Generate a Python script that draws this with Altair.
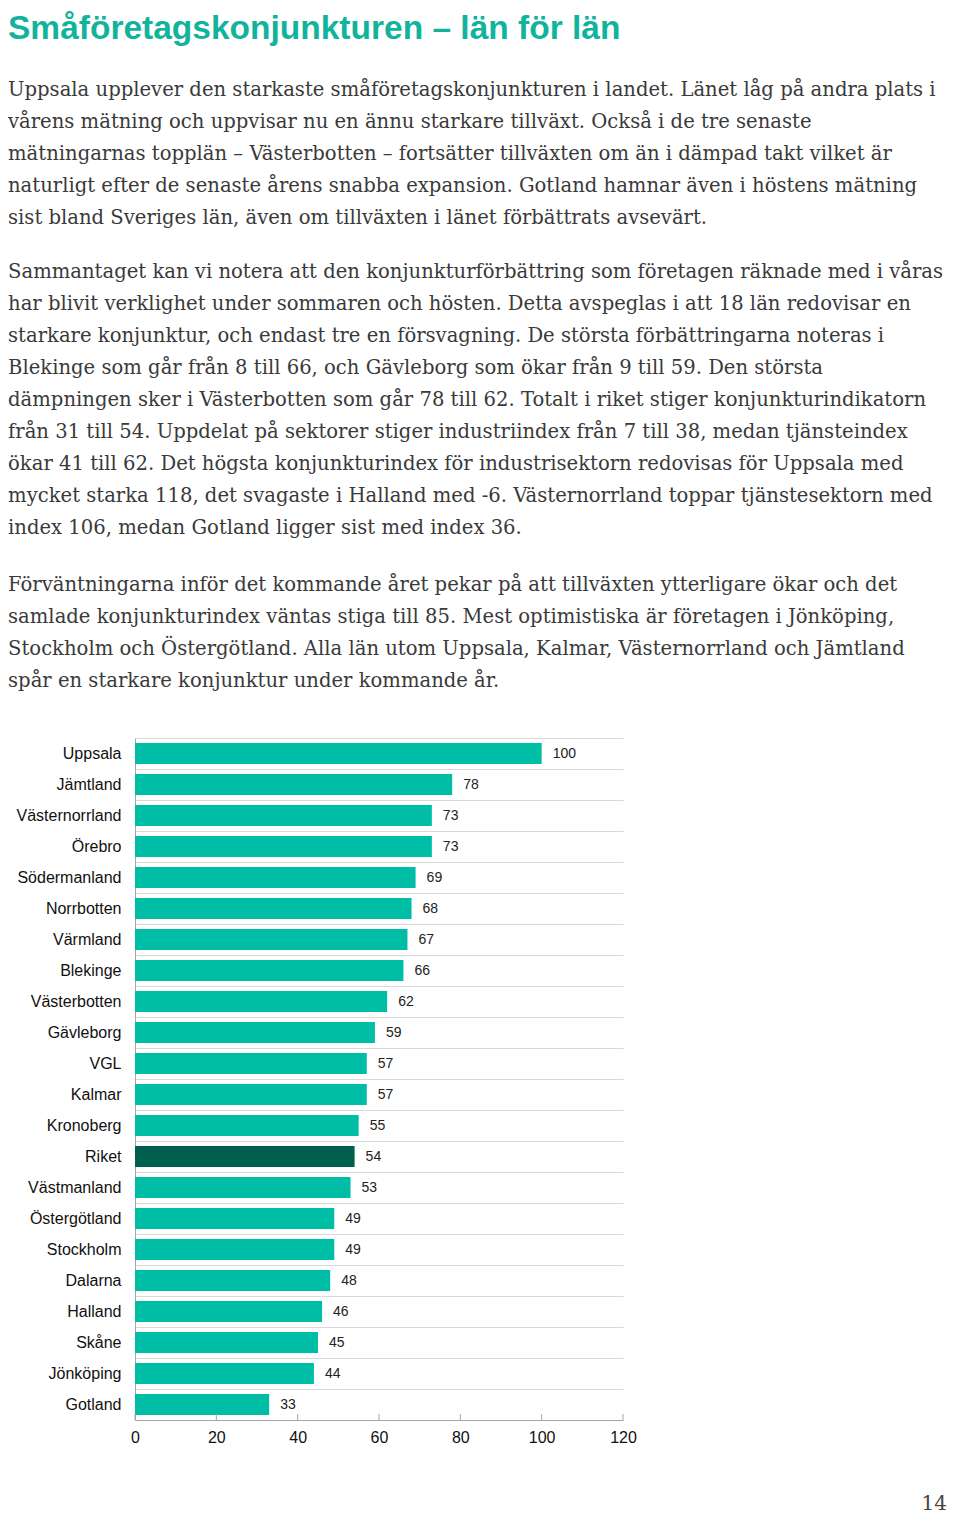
import altair as alt
import pandas as pd

heading = "Småföretagskonjunkturen – län för län"

para1 = [
    "Uppsala upplever den starkaste småföretagskonjunkturen i landet. Länet låg på andra plats i",
    "vårens mätning och uppvisar nu en ännu starkare tillväxt. Också i de tre senaste",
    "mätningarnas topplän – Västerbotten – fortsätter tillväxten om än i dämpad takt vilket är",
    "naturligt efter de senaste årens snabba expansion. Gotland hamnar även i höstens mätning",
    "sist bland Sveriges län, även om tillväxten i länet förbättrats avsevärt.",
]
para2 = [
    "Sammantaget kan vi notera att den konjunkturförbättring som företagen räknade med i våras",
    "har blivit verklighet under sommaren och hösten. Detta avspeglas i att 18 län redovisar en",
    "starkare konjunktur, och endast tre en försvagning. De största förbättringarna noteras i",
    "Blekinge som går från 8 till 66, och Gävleborg som ökar från 9 till 59. Den största",
    "dämpningen sker i Västerbotten som går 78 till 62. Totalt i riket stiger konjunkturindikatorn",
    "från 31 till 54. Uppdelat på sektorer stiger industriindex från 7 till 38, medan tjänsteindex",
    "ökar 41 till 62. Det högsta konjunkturindex för industrisektorn redovisas för Uppsala med",
    "mycket starka 118, det svagaste i Halland med -6. Västernorrland toppar tjänstesektorn med",
    "index 106, medan Gotland ligger sist med index 36.",
]
para3 = [
    "Förväntningarna inför det kommande året pekar på att tillväxten ytterligare ökar och det",
    "samlade konjunkturindex väntas stiga till 85. Mest optimistiska är företagen i Jönköping,",
    "Stockholm och Östergötland. Alla län utom Uppsala, Kalmar, Västernorrland och Jämtland",
    "spår en starkare konjunktur under kommande år.",
]

lan = ["Uppsala", "Jämtland", "Västernorrland", "Örebro", "Södermanland", "Norrbotten",
       "Värmland", "Blekinge", "Västerbotten", "Gävleborg", "VGL", "Kalmar", "Kronoberg",
       "Riket", "Västmanland", "Östergötland", "Stockholm", "Dalarna", "Halland", "Skåne",
       "Jönköping", "Gotland"]
index = [100, 78, 73, 73, 69, 68, 67, 66, 62, 59, 57, 57, 55, 54, 53, 49, 49, 48, 46, 45, 44, 33]
x_ticks = [0, 20, 40, 60, 80, 100, 120]
page_number = ["14"]

TEAL = "#00bea5"
DARK = "#00604f"
HEAD = "#12b39d"
TEXT = "#3a3a3a"
SERIF = "DejaVu Serif"
SANS = "Liberation Sans"
FS = 19.6

W = 488
STEP = 31
H = STEP * len(lan)

df = pd.DataFrame({"lan": lan, "value": index})

# --- header block (heading + first paragraph) ---
header = alt.Chart(pd.DataFrame({"v": [0]})).mark_point(opacity=0).properties(
    width=W, height=1,
    title=alt.TitleParams(
        text=heading, subtitle=para1, anchor="start", frame="group", offset=0, dx=-127,
        font=SANS, fontSize=33.5, fontWeight="bold", color=HEAD,
        subtitleFont=SERIF, subtitleFontSize=FS, subtitleColor=TEXT,
        subtitleLineHeight=32, subtitlePadding=35,
    ),
)

y_enc = alt.Y("lan:N", sort=lan, scale=alt.Scale(paddingInner=0, paddingOuter=0),
              axis=alt.Axis(title=None, ticks=False, domainColor="#a6a6a6", grid=True,
                            gridColor="#d9d9d9", bandPosition=0, labelFont=SANS,
                            labelFontSize=16, labelColor="#111111", labelPadding=14))
x_scale = alt.Scale(domain=[0, 120], nice=False)
x_axis = alt.Axis(values=x_ticks, title=None, grid=False, ticks=False, labelFlush=False,
                  domainColor="#a6a6a6", labelFont=SANS, labelFontSize=16,
                  labelColor="#111111", labelPadding=9)

bars = alt.Chart(df).mark_bar(height=alt.RelativeBandSize(0.68)).encode(
    x=alt.X("value:Q", scale=x_scale, axis=x_axis),
    y=y_enc,
    color=alt.condition(alt.datum.lan == "Riket", alt.value(DARK), alt.value(TEAL)),
)

labels = alt.Chart(df).mark_text(align="left", baseline="middle", dx=11, font=SANS,
                                 fontSize=14, color="#222222").encode(
    x=alt.X("value:Q", scale=x_scale, axis=x_axis),
    y=alt.Y("lan:N", sort=lan),
    text=alt.Text("value:Q"),
)

ticks = alt.Chart(pd.DataFrame({"value": x_ticks})).mark_rule(color="#a6a6a6").encode(
    x=alt.X("value:Q", scale=x_scale, axis=x_axis),
    y=alt.value(H - 6), y2=alt.value(H),
)

pnum = alt.Chart(pd.DataFrame({"p": page_number})).mark_text(
    align="right", baseline="alphabetic", font=SERIF, fontSize=20, color="#444444").encode(
    x=alt.value(812), y=alt.value(772), text="p:N")

body = alt.layer(bars, labels, ticks, pnum).properties(
    width=W, height=H,
    title=alt.TitleParams(
        text=para2, subtitle=para3, anchor="start", frame="bounds", dx=-8, offset=46.5,
        font=SERIF, fontSize=FS, fontWeight="normal", color=TEXT, lineHeight=32,
        subtitleFont=SERIF, subtitleFontSize=FS, subtitleColor=TEXT,
        subtitleLineHeight=32, subtitlePadding=37,
    ),
)

chart = alt.vconcat(header, body, spacing=27).properties(
    padding={"top": 3, "left": 0, "right": 0, "bottom": 0}
).configure_view(stroke=None)

chart.save("out.html", embed_options={"renderer": "svg", "actions": False})
